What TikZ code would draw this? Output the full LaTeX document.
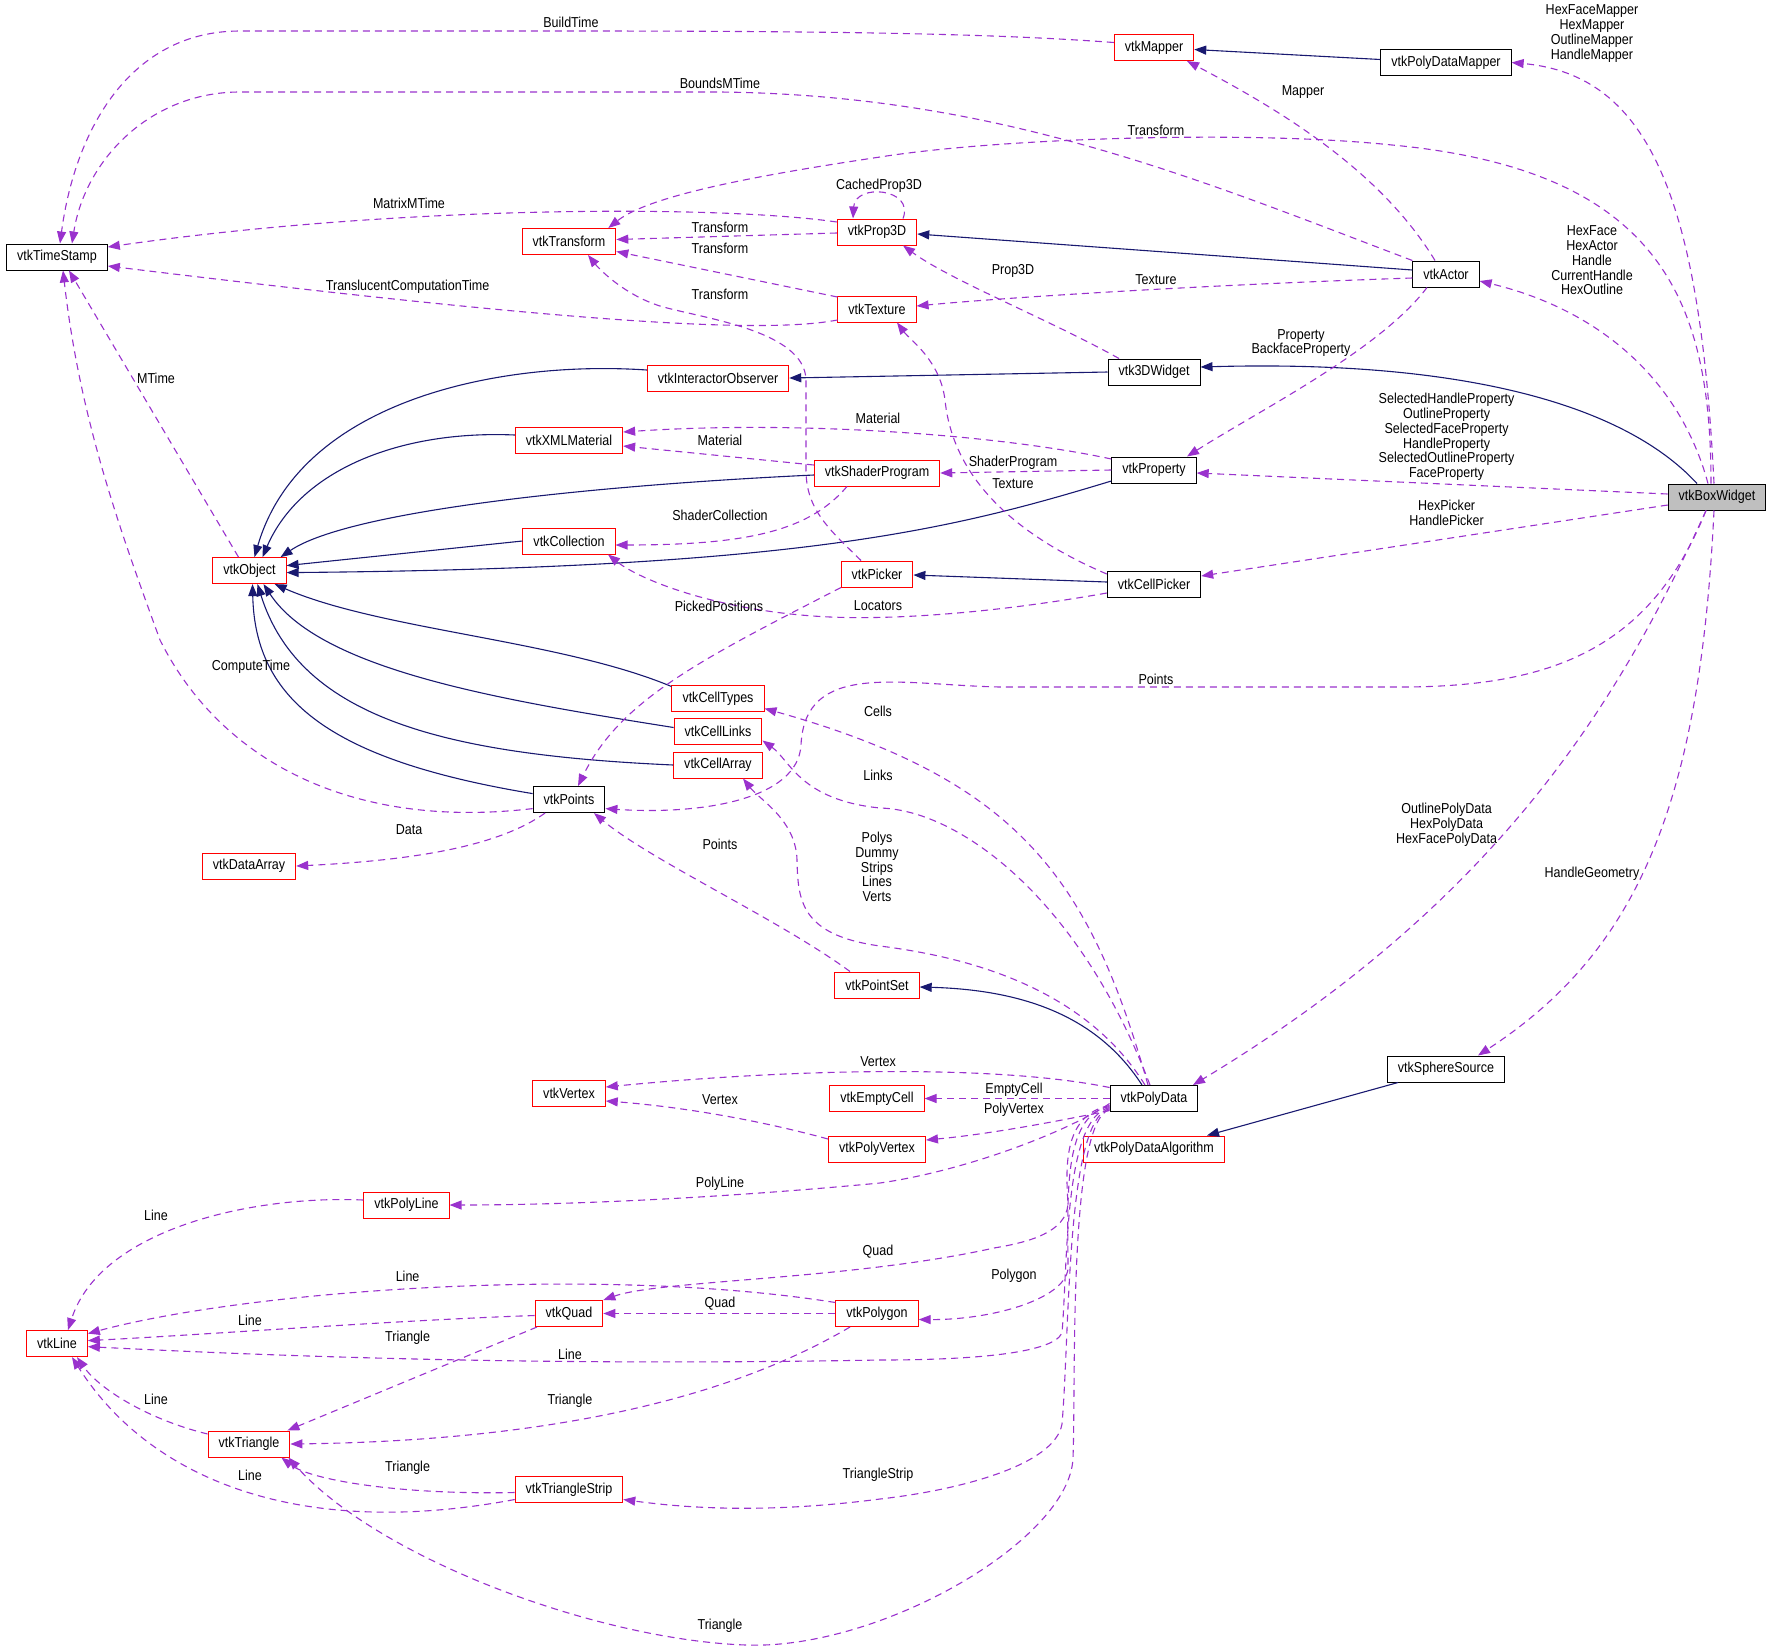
\documentclass[tikz,border=0pt]{standalone}
\usepackage{fontspec}
\setmainfont{Liberation Sans}[FakeStretch=0.87]
\usetikzlibrary{arrows.meta}

\definecolor{inhblue}{HTML}{191970}
\definecolor{usepurple}{HTML}{9A32CD}
\definecolor{boxred}{HTML}{FF0000}
\definecolor{boxgray}{HTML}{BFBFBF}

\tikzset{
  cls/.style={draw, rectangle, fill=white, minimum height=26pt, inner xsep=10.5pt, inner ysep=0pt, line width=1pt},
  redcls/.style={cls, draw=boxred},
  blackcls/.style={cls, draw=black},
  maincls/.style={cls, draw=black, fill=boxgray},
  inh/.style={draw=inhblue, line width=1.1pt, -{Triangle[length=12pt,width=9pt]}},
  dep/.style={draw=usepurple, line width=1.1pt, dash pattern=on 7pt off 5pt, -{Triangle[length=12pt,width=9pt]}},
  lbl/.style={inner sep=0pt, align=center}
}

\begin{document}
\begin{tikzpicture}[x=1pt, y=-1pt, font=\fontsize{14.4}{14.8}\selectfont]
    \useasboundingbox (0,0) rectangle (1773,1650);

    % Define the classes
    \node[blackcls] (vtkTimeStamp) at (57,257) {vtkTimeStamp};
    \node[redcls] (vtkMapper) at (1154,47.5) {vtkMapper};
    \node[blackcls] (vtkPolyDataMapper) at (1446,62.5) {vtkPolyDataMapper};
    \node[redcls] (vtkTransform) at (569,241.5) {vtkTransform};
    \node[redcls] (vtkProp3D) at (877,232) {vtkProp3D};
    \node[redcls] (vtkTexture) at (877,309) {vtkTexture};
    \node[blackcls] (vtkActor) at (1446,274) {vtkActor};
    \node[redcls] (vtkInteractorObserver) at (718,378) {vtkInteractorObserver};
    \node[blackcls] (vtk3DWidget) at (1154,372) {vtk3DWidget};
    \node[redcls] (vtkXMLMaterial) at (569,440) {vtkXMLMaterial};
    \node[redcls] (vtkShaderProgram) at (877,473) {vtkShaderProgram};
    \node[blackcls] (vtkProperty) at (1154,470) {vtkProperty};
    \node[maincls] (vtkBoxWidget) at (1717,497) {vtkBoxWidget};
    \node[redcls] (vtkCollection) at (569,541) {vtkCollection};
    \node[redcls] (vtkObject) at (249.5,570.6) {vtkObject};
    \node[redcls] (vtkPicker) at (877,574) {vtkPicker};
    \node[blackcls] (vtkCellPicker) at (1154,584) {vtkCellPicker};
    \node[redcls] (vtkCellTypes) at (718,698.5) {vtkCellTypes};
    \node[redcls] (vtkCellLinks) at (718,731.5) {vtkCellLinks};
    \node[redcls] (vtkCellArray) at (718,765) {vtkCellArray};
    \node[blackcls] (vtkPoints) at (569,799.6) {vtkPoints};
    \node[redcls] (vtkDataArray) at (249,866) {vtkDataArray};
    \node[redcls] (vtkPointSet) at (877,985) {vtkPointSet};
    \node[redcls] (vtkVertex) at (569,1093) {vtkVertex};
    \node[redcls] (vtkEmptyCell) at (877,1098.5) {vtkEmptyCell};
    \node[blackcls] (vtkPolyData) at (1154,1098.5) {vtkPolyData};
    \node[blackcls] (vtkSphereSource) at (1446,1069) {vtkSphereSource};
    \node[redcls] (vtkPolyDataAlgorithm) at (1154,1149) {vtkPolyDataAlgorithm};
    \node[redcls] (vtkPolyVertex) at (877,1149) {vtkPolyVertex};
    \node[redcls] (vtkPolyLine) at (406.5,1205) {vtkPolyLine};
    \node[redcls] (vtkQuad) at (569,1313.5) {vtkQuad};
    \node[redcls] (vtkPolygon) at (877,1313.5) {vtkPolygon};
    \node[redcls] (vtkLine) at (57,1343.6) {vtkLine};
    \node[redcls] (vtkTriangle) at (249,1444) {vtkTriangle};
    \node[redcls] (vtkTriangleStrip) at (569,1489.5) {vtkTriangleStrip};

    % Draw the inheritance edges
    \draw[inh] ([yshift=3]vtkPolyDataMapper.west) -- ([yshift=-2]vtkMapper.east);
    \draw[inh] ([yshift=4]vtkActor.west) -- ([yshift=-2]vtkProp3D.east);
    \draw[inh] (vtk3DWidget.west) -- (vtkInteractorObserver.east);
    \draw[inh] ([xshift=-20]vtkBoxWidget.north) .. controls (1620,400) and (1450,360) .. ([yshift=5]vtk3DWidget.east);
    \draw[inh] ([yshift=8]vtkInteractorObserver.west) .. controls (500,360) and (300,400) .. ([xshift=5]vtkObject.north);
    \draw[inh] ([yshift=5]vtkXMLMaterial.west) .. controls (400,430) and (300,470) .. ([xshift=13]vtkObject.north);
    \draw[inh] ([yshift=-2]vtkShaderProgram.west) .. controls (600,485) and (350,510) .. ([xshift=-6]vtkObject.north east);
    \draw[inh] ([yshift=-11]vtkProperty.west) .. controls (950,530) and (800,568) .. ([yshift=-2]vtkObject.east);
    \draw[inh] (vtkCollection.west) -- ([yshift=5]vtkObject.east);
    \draw[inh] ([yshift=2]vtkCellPicker.west) -- ([yshift=-1]vtkPicker.east);
    \draw[inh] ([yshift=12]vtkCellTypes.west) .. controls (560,640) and (380,630) .. ([xshift=-12]vtkObject.south east);
    \draw[inh] ([yshift=4]vtkCellLinks.west) .. controls (500,700) and (320,670) .. ([xshift=14]vtkObject.south);
    \draw[inh] (vtkCellArray.west) .. controls (450,755) and (300,720) .. ([xshift=8]vtkObject.south);
    \draw[inh] ([yshift=6]vtkPoints.west) .. controls (330,760) and (255,700) .. ([xshift=3]vtkObject.south);
    \draw[inh] ([xshift=-12]vtkPolyData.north) .. controls (1100,1020) and (1030,990) .. ([yshift=-2]vtkPointSet.east);
    \draw[inh] ([xshift=-48]vtkSphereSource.south) -- ([xshift=53]vtkPolyDataAlgorithm.north);

    % Draw the usage edges
    \draw[dep] ([yshift=5]vtkMapper.west) .. controls (1000,34) and (850,31) .. (571,31) -- (240,31) .. controls (130,31) and (75,130) .. ([xshift=3]vtkTimeStamp.north);
    \draw[dep] (vtkActor.north west) .. controls (1200,180) and (1000,95) .. (720,92) -- (240,92) .. controls (150,92) and (85,160) .. ([xshift=15]vtkTimeStamp.north);
    \draw[dep] ([xshift=-11]vtkActor.north) .. controls (1380,170) and (1280,110) .. ([xshift=33]vtkMapper.south);
    \draw[dep] ([xshift=-3]vtkBoxWidget.north) .. controls (1700,200) and (1650,75) .. (vtkPolyDataMapper.east);
    \draw[dep] ([xshift=-6]vtkBoxWidget.north) .. controls (1711,300) and (1660,170) .. (1392,145) .. controls (1250,130) and (1000,138) .. (880,157) .. controls (760,175) and (650,195) .. ([xshift=-8]vtkTransform.north east);
    \draw[dep] ([yshift=10]vtkProp3D.west) .. controls (720,205) and (400,205) .. ([yshift=10]vtkTimeStamp.east);
    \draw[dep] ([xshift=26]vtkProp3D.north) .. controls (915,188) and (855,183) .. ([xshift=-24]vtkProp3D.north);
    \draw[dep] ([yshift=-1]vtkProp3D.west) -- ([yshift=2]vtkTransform.east);
    \draw[dep] ([yshift=12]vtkTexture.west) -- ([yshift=-10]vtkTransform.east);
    \draw[dep] ([xshift=-16]vtkPicker.north) .. controls (830,530) and (806,510) .. (806,470) -- (806,380) .. controls (805,330) and (700,318) .. (660,306) .. controls (625,295) and (600,270) .. ([xshift=19]vtkTransform.south);
    \draw[dep] ([yshift=-11]vtkTexture.west) .. controls (760,335) and (550,320) .. ([yshift=-9]vtkTimeStamp.east);
    \draw[dep] ([yshift=-4]vtkActor.west) .. controls (1200,285) and (1000,298) .. ([yshift=3]vtkTexture.east);
    \draw[dep] ([xshift=-35]vtk3DWidget.north) .. controls (1050,320) and (950,280) .. ([xshift=26]vtkProp3D.south);
    \draw[dep] ([xshift=-19]vtkActor.south) .. controls (1380,350) and (1260,410) .. ([xshift=33]vtkProperty.north);
    \draw[dep] ([xshift=-9]vtkBoxWidget.north) .. controls (1680,380) and (1600,310) .. ([yshift=-7]vtkActor.east);
    \draw[dep] ([yshift=3]vtkBoxWidget.west) -- ([yshift=-3]vtkProperty.east);
    \draw[dep] ([yshift=-8]vtkBoxWidget.west) -- ([yshift=8]vtkCellPicker.east);
    \draw[dep] ([xshift=-11]vtkBoxWidget.south) .. controls (1650,650) and (1550,687) .. (1400,687) -- (1000,687) .. controls (900,685) and (805,660) .. (801,745) .. controls (798,800) and (700,815) .. ([yshift=-9]vtkPoints.east);
    \draw[dep] ([yshift=11]vtkProperty.west) .. controls (1000,435) and (800,420) .. ([yshift=8]vtkXMLMaterial.east);
    \draw[dep] ([yshift=8]vtkShaderProgram.west) -- ([yshift=-6]vtkXMLMaterial.east);
    \draw[dep] (vtkProperty.west) -- (vtkShaderProgram.east);
    \draw[dep] ([yshift=10]vtkCellPicker.west) .. controls (980,520) and (950,450) .. (945,400) .. controls (940,360) and (910,340) .. ([xshift=20]vtkTexture.south);
    \draw[dep] ([xshift=-30]vtkShaderProgram.south) .. controls (810,530) and (750,545) .. ([yshift=-4]vtkCollection.east);
    \draw[dep] ([yshift=-9]vtkCellPicker.west) .. controls (1000,612) and (900,620) .. (830,617) .. controls (720,612) and (640,580) .. ([xshift=39]vtkCollection.south);
    \draw[dep] ([xshift=-36]vtkPicker.south) .. controls (700,660) and (620,700) .. ([xshift=9]vtkPoints.north);
    \draw[dep] ([xshift=-6]vtkPolyData.north) .. controls (1090,880) and (1020,780) .. ([yshift=-10]vtkCellTypes.east);
    \draw[dep] ([xshift=-4]vtkPolyData.north) .. controls (1080,900) and (960,810) .. (880,808) .. controls (800,800) and (790,760) .. ([yshift=-9]vtkCellLinks.east);
    \draw[dep] ([xshift=-9]vtkPolyData.north) .. controls (1080,980) and (950,955) .. (880,946) .. controls (800,935) and (798,900) .. (797,860) .. controls (796,820) and (760,800) .. ([xshift=25]vtkCellArray.south);
    \draw[dep] ([xshift=-27]vtkPointSet.north) .. controls (780,920) and (650,860) .. ([xshift=25]vtkPoints.south);
    \draw[dep] ([yshift=-9]vtkPoints.west) .. controls (350,830) and (220,760) .. (160,640) .. controls (120,530) and (80,420) .. ([xshift=6]vtkTimeStamp.south);
    \draw[dep] ([xshift=-11]vtkObject.north) -- ([xshift=12]vtkTimeStamp.south);
    \draw[dep] ([xshift=-24]vtkPoints.south) .. controls (500,845) and (420,860) .. (vtkDataArray.east);
    \draw[dep] ([xshift=-11]vtkBoxWidget.south) .. controls (1620,700) and (1500,900) .. ([xshift=39]vtkPolyData.north);
    \draw[dep] ([xshift=-3]vtkBoxWidget.south) .. controls (1700,800) and (1640,950) .. ([xshift=32]vtkSphereSource.north);
    \draw[dep] ([yshift=11]vtkPolyData.west) .. controls (1000,1065) and (800,1068) .. ([yshift=6]vtkVertex.east);
    \draw[dep] (vtkPolyData.west) -- (vtkEmptyCell.east);
    \draw[dep] ([yshift=-12]vtkPolyData.west) .. controls (1040,1125) and (980,1135) .. ([yshift=9]vtkPolyVertex.east);
    \draw[dep] ([yshift=10]vtkPolyVertex.west) .. controls (740,1115) and (660,1105) .. ([yshift=-8]vtkVertex.east);
    \draw[dep] ([yshift=-5]vtkPolyData.west) .. controls (1070,1130) and (970,1170) .. (880,1183) .. controls (700,1200) and (550,1205) .. (vtkPolyLine.east);
    \draw[dep] ([yshift=5]vtkPolyLine.west) .. controls (250,1195) and (100,1230) .. ([xshift=11]vtkLine.north);
    \draw[dep] ([yshift=-7]vtkPolyData.west) .. controls (1062,1115) and (1066,1170) .. (1068,1204) .. controls (1066,1232) and (1030,1242) .. (994,1248) .. controls (850,1280) and (660,1280) .. (vtkQuad.north east);
    \draw[dep] ([yshift=11]vtkPolygon.west) .. controls (600,1265) and (250,1290) .. ([yshift=10]vtkLine.east);
    \draw[dep] ([yshift=-2]vtkQuad.west) .. controls (400,1320) and (200,1335) .. ([yshift=3]vtkLine.east);
    \draw[dep] (vtkPolygon.west) -- (vtkQuad.east);
    \draw[dep] ([yshift=-8]vtkPolyData.west) .. controls (1062,1115) and (1068,1200) .. (1068,1269) .. controls (1064,1300) and (990,1320) .. ([yshift=-6]vtkPolygon.east);
    \draw[dep] ([xshift=-32]vtkQuad.south) -- ([xshift=-3]vtkTriangle.north east);
    \draw[dep] ([yshift=-9]vtkPolyData.west) .. controls (1064,1118) and (1068,1260) .. (1062,1333) .. controls (1052,1355) and (960,1360) .. (880,1360) .. controls (600,1365) and (350,1360) .. ([yshift=-3]vtkLine.east);
    \draw[dep] ([xshift=-27]vtkPolygon.south) .. controls (760,1380) and (600,1440) .. (vtkTriangle.east);
    \draw[dep] ([yshift=10]vtkTriangle.west) .. controls (150,1420) and (100,1390) .. ([xshift=20]vtkLine.south);
    \draw[dep] ([yshift=-3]vtkTriangleStrip.west) .. controls (400,1495) and (310,1480) .. ([xshift=-9]vtkTriangle.south east);
    \draw[dep] ([yshift=-10]vtkTriangleStrip.west) .. controls (300,1540) and (150,1480) .. ([xshift=15]vtkLine.south);
    \draw[dep] ([yshift=-10]vtkPolyData.west) .. controls (1066,1120) and (1070,1330) .. (1062,1424) .. controls (1055,1465) and (960,1490) .. (880,1499) .. controls (780,1512) and (700,1510) .. ([yshift=-10]vtkTriangleStrip.east);
    \draw[dep] ([yshift=-11]vtkPolyData.west) .. controls (1068,1122) and (1076,1380) .. (1073,1458) .. controls (1070,1540) and (880,1650) .. (746,1645) .. controls (600,1640) and (380,1560) .. ([xshift=-2]vtkTriangle.south east);

    % Place the edge labels
    \node[lbl] (lBuildTime) at (571,22) {BuildTime};
    \node[lbl] (lBoundsMTime) at (720,83) {BoundsMTime};
    \node[lbl] (lMapper) at (1303,92) {Mapper};
    \node[lbl] (lMappers) at (1592,33.5) {HexFaceMapper\\HexMapper\\OutlineMapper\\HandleMapper};
    \node[lbl] (lTransformA) at (1156,130) {Transform};
    \node[lbl] (lMatrixMTime) at (409,203) {MatrixMTime};
    \node[lbl] (lCachedProp3D) at (879,186) {CachedProp3D};
    \node[lbl] (lTransformB) at (720,227) {Transform};
    \node[lbl] (lTransformC) at (720,248) {Transform};
    \node[lbl] (lTransformD) at (720,294) {Transform};
    \node[lbl] (lTranslucent) at (407.6,287) {TranslucentComputationTime};
    \node[lbl] (lProp3D) at (1013,271) {Prop3D};
    \node[lbl] (lTextureA) at (1156,280) {Texture};
    \node[lbl] (lActors) at (1592,260.5) {HexFace\\HexActor\\Handle\\CurrentHandle\\HexOutline};
    \node[lbl] (lProperty) at (1301,343) {Property\\BackfaceProperty};
    \node[lbl] (lMTime) at (156,378) {MTime};
    \node[lbl] (lMaterialA) at (878,418) {Material};
    \node[lbl] (lMaterialB) at (720,440) {Material};
    \node[lbl] (lProperties) at (1446.6,437) {SelectedHandleProperty\\OutlineProperty\\SelectedFaceProperty\\HandleProperty\\SelectedOutlineProperty\\FaceProperty};
    \node[lbl] (lShaderProgram) at (1013,463) {ShaderProgram};
    \node[lbl] (lTextureB) at (1013,484) {Texture};
    \node[lbl] (lPickers) at (1446.6,513) {HexPicker\\HandlePicker};
    \node[lbl] (lShaderCollection) at (720,515) {ShaderCollection};
    \node[lbl] (lPickedPositions) at (719,606) {PickedPositions};
    \node[lbl] (lLocators) at (878,606) {Locators};
    \node[lbl] (lComputeTime) at (251,667) {ComputeTime};
    \node[lbl] (lPointsA) at (1156,679) {Points};
    \node[lbl] (lCells) at (878,711) {Cells};
    \node[lbl] (lLinks) at (878,775) {Links};
    \node[lbl] (lData) at (409,830) {Data};
    \node[lbl] (lPointsB) at (720,844) {Points};
    \node[lbl] (lArrays) at (877,867) {Polys\\Dummy\\Strips\\Lines\\Verts};
    \node[lbl] (lPolyDatas) at (1446.6,824.6) {OutlinePolyData\\HexPolyData\\HexFacePolyData};
    \node[lbl] (lHandleGeometry) at (1592,874) {HandleGeometry};
    \node[lbl] (lVertexA) at (878,1062) {Vertex};
    \node[lbl] (lEmptyCell) at (1014,1090) {EmptyCell};
    \node[lbl] (lVertexB) at (720,1100) {Vertex};
    \node[lbl] (lPolyVertex) at (1014,1110) {PolyVertex};
    \node[lbl] (lPolyLine) at (720,1184) {PolyLine};
    \node[lbl] (lLineA) at (156,1215) {Line};
    \node[lbl] (lQuadA) at (878,1252) {Quad};
    \node[lbl] (lLineB) at (407.6,1276) {Line};
    \node[lbl] (lPolygon) at (1014,1276) {Polygon};
    \node[lbl] (lQuadB) at (720,1304) {Quad};
    \node[lbl] (lLineC) at (250,1320) {Line};
    \node[lbl] (lTriangleA) at (407.6,1338) {Triangle};
    \node[lbl] (lLineD) at (570,1354) {Line};
    \node[lbl] (lLineE) at (156,1399) {Line};
    \node[lbl] (lTriangleB) at (570,1400.6) {Triangle};
    \node[lbl] (lTriangleC) at (407.6,1468) {Triangle};
    \node[lbl] (lLineF) at (250,1475) {Line};
    \node[lbl] (lTriangleStrip) at (878,1475) {TriangleStrip};
    \node[lbl] (lTriangleD) at (720,1626) {Triangle};

\end{tikzpicture}
\end{document}
